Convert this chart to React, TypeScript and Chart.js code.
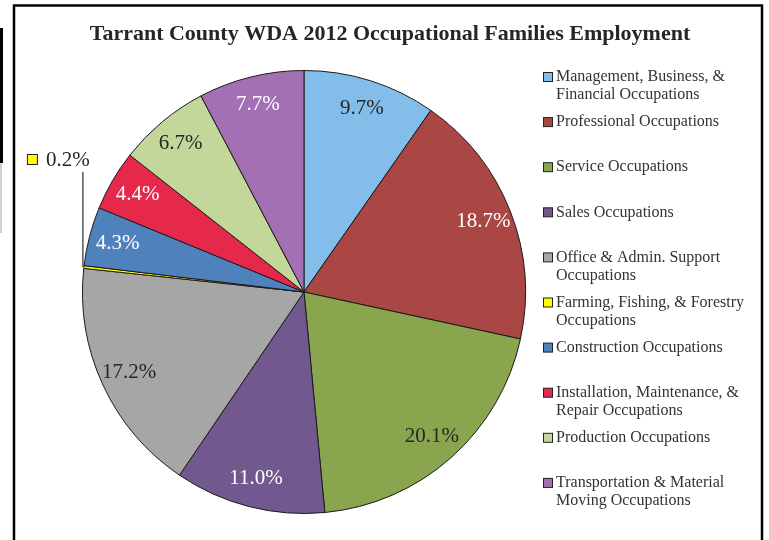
import React, { useEffect, useRef } from "react";
import { Chart, registerables } from "chart.js";

Chart.register(...registerables);

const TITLE = "Tarrant County WDA 2012 Occupational Families Employment";

const categories: string[][] = [
  ["Management, Business, &", "Financial Occupations"],
  ["Professional Occupations"],
  ["Service Occupations"],
  ["Sales Occupations"],
  ["Office & Admin. Support", "Occupations"],
  ["Farming, Fishing, & Forestry", "Occupations"],
  ["Construction Occupations"],
  ["Installation, Maintenance, &", "Repair Occupations"],
  ["Production Occupations"],
  ["Transportation & Material", "Moving Occupations"],
];

const shares: number[] = [9.7, 18.7, 20.1, 11.0, 17.2, 0.2, 4.3, 4.4, 6.7, 7.7];

const colors: string[] = [
  "#82BEE9",
  "#AA4643",
  "#89A54E",
  "#71588F",
  "#A6A6A6",
  "#FFFF00",
  "#4F81BD",
  "#E6294A",
  "#C4D79B",
  "#A270B3",
];

const labelColors: string[] = [
  "#262626",
  "#FFFFFF",
  "#262626",
  "#FFFFFF",
  "#262626",
  "#262626",
  "#FFFFFF",
  "#FFFFFF",
  "#262626",
  "#FFFFFF",
];

const SERIF = '"Liberation Serif", "Times New Roman", serif';

const decoPlugin = {
  id: "deco",
  afterDraw(chart: any) {
    const ctx = chart.ctx as CanvasRenderingContext2D;
    ctx.save();

    // left-edge artifact
    ctx.fillStyle = "#000";
    ctx.fillRect(0, 28, 3, 135);
    ctx.fillStyle = "#cfcfcf";
    ctx.fillRect(0, 163, 2, 70);

    // frame
    ctx.strokeStyle = "#000";
    ctx.lineWidth = 2.5;
    ctx.beginPath();
    ctx.moveTo(14, 545);
    ctx.lineTo(14, 5.5);
    ctx.lineTo(762, 5.5);
    ctx.lineTo(762, 545);
    ctx.stroke();

    // title
    ctx.fillStyle = "#262626";
    ctx.font = `bold 22px ${SERIF}`;
    ctx.textAlign = "center";
    ctx.textBaseline = "middle";
    ctx.fillText(TITLE, 390, 34);

    // legend
    const labels = chart.data.labels as string[][];
    const bg = chart.data.datasets[0].backgroundColor as string[];
    ctx.font = `16px ${SERIF}`;
    ctx.textAlign = "left";
    labels.forEach((lines, i) => {
      const y0 = 77 + i * 45.1;
      ctx.fillStyle = bg[i];
      ctx.fillRect(543.5, y0 - 4.5, 9, 9);
      ctx.strokeStyle = "#222";
      ctx.lineWidth = 1;
      ctx.strokeRect(543.5, y0 - 4.5, 9, 9);
      ctx.fillStyle = "#333";
      lines.forEach((t, j) => {
        ctx.fillText(t, 556, y0 + j * 18);
      });
    });

    // data labels
    const meta = chart.getDatasetMeta(0);
    const vals = chart.data.datasets[0].data as number[];
    ctx.font = `21px ${SERIF}`;
    ctx.textAlign = "center";
    meta.data.forEach((arc: any, i: number) => {
      const mid = (arc.startAngle + arc.endAngle) / 2;
      const txt = vals[i].toFixed(1) + "%";
      if (vals[i] < 1) {
        const ex = arc.x + Math.cos(mid) * arc.outerRadius;
        const ey = arc.y + Math.sin(mid) * arc.outerRadius;
        ctx.strokeStyle = "#000";
        ctx.lineWidth = 1;
        ctx.beginPath();
        ctx.moveTo(ex - 1, ey);
        ctx.lineTo(ex - 1, ey - 95);
        ctx.stroke();
        ctx.fillStyle = bg[i];
        ctx.fillRect(ex - 56.5, ey - 112.5, 10, 10);
        ctx.strokeStyle = "#222";
        ctx.strokeRect(ex - 56.5, ey - 112.5, 10, 10);
        ctx.fillStyle = "#262626";
        ctx.textAlign = "left";
        ctx.fillText(txt, ex - 38, ey - 107);
        ctx.textAlign = "center";
        return;
      }
      const r = arc.outerRadius * 0.87;
      ctx.fillStyle = labelColors[i];
      ctx.fillText(txt, arc.x + Math.cos(mid) * r, arc.y + Math.sin(mid) * r);
    });

    ctx.restore();
  },
};

export default function App() {
  const ref = useRef<HTMLCanvasElement>(null);
  useEffect(() => {
    if (!ref.current) return;
    const chart = new Chart(ref.current, {
      type: "pie",
      data: {
        labels: categories as any,
        datasets: [
          {
            data: shares,
            backgroundColor: colors,
            borderColor: "#1a1a1a",
            borderWidth: 1,
          },
        ],
      },
      options: {
        responsive: false,
        animation: false,
        events: [],
        layout: { padding: { left: 82, right: 243, top: 70, bottom: 26 } },
        plugins: {
          legend: { display: false },
          title: { display: false },
          tooltip: { enabled: false },
        },
      },
      plugins: [decoPlugin],
    });
    return () => chart.destroy();
  }, []);
  return (
    <div style={{ position: "absolute", left: 0, top: 0, width: 769, height: 540, background: "#fff" }}>
      <canvas ref={ref} width={769} height={540} style={{ display: "block" }} />
    </div>
  );
}
